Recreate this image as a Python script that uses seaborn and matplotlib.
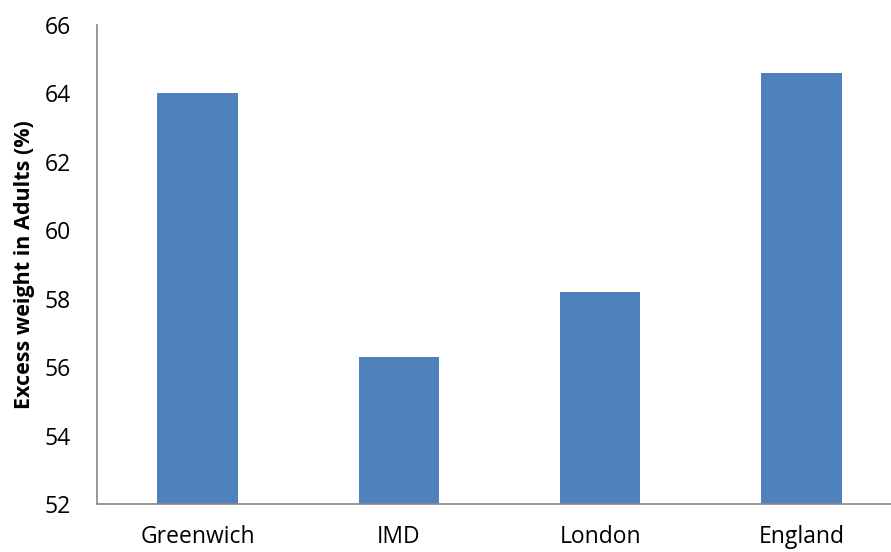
import matplotlib
matplotlib.use("Agg")
import matplotlib.pyplot as plt
import seaborn as sns
import pandas as pd

areas = ["Greenwich", "IMD", "London", "England"]
excess_weight = [64.0, 56.3, 58.2, 64.6]

sns.set_theme(style="white")
plt.rcParams["font.family"] = ["Open Sans", "DejaVu Sans"]

df = pd.DataFrame({"area": areas, "value": excess_weight})

fig = plt.figure(figsize=(8.91, 5.52), dpi=100)
ax = fig.add_axes([97 / 891, 1 - 504 / 552, 805 / 891, 479 / 552])

sns.barplot(data=df, x="area", y="value", color="#4F81BD", saturation=1,
            width=0.4, ax=ax, edgecolor="none")

ax.set_ylim(52, 66)
ax.set_yticks(range(52, 67, 2))
ax.set_xlim(-0.5, 3.5)
ax.set_xlabel("")
ax.set_ylabel("Excess weight in Adults (%)", fontsize=15.5, fontweight="bold",
              labelpad=7, color="black")
ax.tick_params(axis="both", length=0, labelsize=16.5, colors="black")
ax.tick_params(axis="x", pad=15)
ax.tick_params(axis="y", pad=19)
for lbl in ax.get_yticklabels():
    lbl.set_horizontalalignment("right")

for side in ["top", "right"]:
    ax.spines[side].set_visible(False)
for side in ["left", "bottom"]:
    ax.spines[side].set_color("#868686")
    ax.spines[side].set_linewidth(1.2)

fig.savefig("out.png", dpi=100)
